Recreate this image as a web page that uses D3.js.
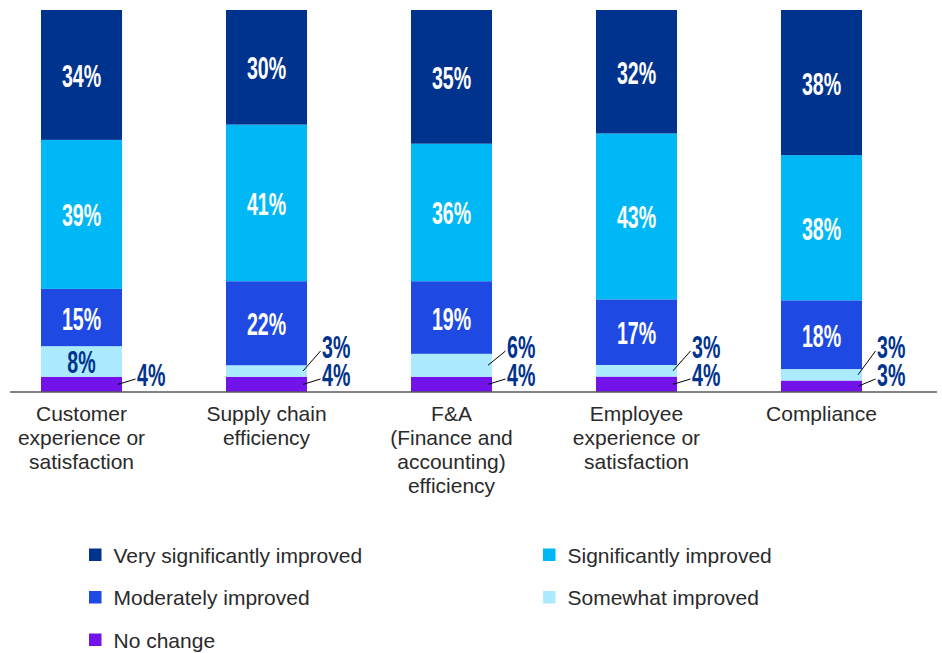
<!DOCTYPE html>
<html>
<head>
<meta charset="utf-8">
<script src="https://cdn.jsdelivr.net/npm/d3@7"></script>
<style>
  html, body { margin: 0; padding: 0; background: #fff; }
  svg { display: block; }
</style>
</head>
<body>
<svg id="chart" width="942" height="653"></svg>
<script>
// Survey results: share of respondents per improvement level, by business area
const categories = [
  "Customer experience or satisfaction",
  "Supply chain efficiency",
  "F&A (Finance and accounting) efficiency",
  "Employee experience or satisfaction",
  "Compliance"
];
const categoryLines = [
  ["Customer", "experience or", "satisfaction"],
  ["Supply chain", "efficiency"],
  ["F&A", "(Finance and", "accounting)", "efficiency"],
  ["Employee", "experience or", "satisfaction"],
  ["Compliance"]
];

// Stack order, bottom to top
const seriesNames = [
  "No change",
  "Somewhat improved",
  "Moderately improved",
  "Significantly improved",
  "Very significantly improved"
];
const noChange                  = [4, 4, 4, 4, 3];
const somewhatImproved          = [8, 3, 6, 3, 3];
const moderatelyImproved        = [15, 22, 19, 17, 18];
const significantlyImproved     = [39, 41, 36, 43, 38];
const verySignificantlyImproved = [34, 30, 35, 32, 38];

// Legend layout order (two columns, row by row)
const legendOrder = [
  "Very significantly improved", "Significantly improved",
  "Moderately improved", "Somewhat improved",
  "No change"
];

const seriesValues = [noChange, somewhatImproved, moderatelyImproved, significantlyImproved, verySignificantlyImproved];
const colors = d3.scaleOrdinal()
  .domain(seriesNames)
  .range(["#7213EA", "#ACEAFF", "#1E49E2", "#00B8F5", "#00338D"]);
const labelColors = d3.scaleOrdinal()
  .domain(seriesNames)
  .range(["#00338D", "#00338D", "#ffffff", "#ffffff", "#ffffff"]);

const rows = categories.map((c, i) => {
  const r = { category: c };
  seriesNames.forEach((s, k) => { r[s] = seriesValues[k][i]; });
  return r;
});

const stacked = d3.stack()
  .keys(seriesNames)
  .offset(d3.stackOffsetExpand)(rows);

const svg = d3.select("#chart");

const x = d3.scaleBand()
  .domain(categories)
  .range([22.5, 880.5])
  .paddingInner(0.562)
  .paddingOuter(0.1);

const y = d3.scaleLinear().domain([0, 1]).range([392, 10]);

// Condensed bold look for the percentages: a regular bold face squeezed horizontally
const valueFont = "'Liberation Sans', Arial, sans-serif";
const valueScale = "scale(0.7,1.1)";
const valueSize = 28;
const textFont = "'Liberation Sans', Arial, sans-serif";
const textSize = 21;

// Bars
const layers = svg.append("g").selectAll("g")
  .data(stacked)
  .join("g")
  .attr("fill", d => colors(d.key));

layers.selectAll("rect")
  .data(d => d.map(p => ({ p, key: d.key })))
  .join("rect")
  .attr("x", d => x(d.p.data.category))
  .attr("width", x.bandwidth())
  .attr("y", d => y(d.p[1]))
  .attr("height", d => y(d.p[0]) - y(d.p[1]));

// Baseline
svg.append("line")
  .attr("x1", 10).attr("x2", 937)
  .attr("y1", y(0)).attr("y2", y(0))
  .attr("stroke", "#5a5a5a")
  .attr("stroke-width", 1.5);

// Value labels: inside the segment when there is room, otherwise to the right with a leader
const threshold = 7;
const labelG = svg.append("g");
const outsideBaselines = [386, 358];

categories.forEach((cat, i) => {
  const bx = x(cat);
  const right = bx + x.bandwidth();
  let outsideCount = 0;
  stacked.forEach(layer => {
    const p = layer[i];
    const v = p.data[layer.key];
    const mid = (y(p[0]) + y(p[1])) / 2;
    if (v >= threshold) {
      labelG.append("text")
        .attr("transform", `translate(${bx + x.bandwidth() / 2},${mid + 12}) ${valueScale}`)
        .attr("text-anchor", "middle")
        .attr("font-family", valueFont)
        .attr("font-weight", "bold")
        .attr("font-size", valueSize)
        .attr("fill", labelColors(layer.key))
        .text(v + "%");
    } else {
      const base = outsideBaselines[outsideCount++];
      const lx = right + 15;
      labelG.append("line")
        .attr("x1", right - 4).attr("y1", mid)
        .attr("x2", lx - 1.5).attr("y2", base - 7)
        .attr("stroke", "#000")
        .attr("stroke-width", 1);
      labelG.append("text")
        .attr("transform", `translate(${lx},${base}) ${valueScale}`)
        .attr("text-anchor", "start")
        .attr("font-family", valueFont)
        .attr("font-weight", "bold")
        .attr("font-size", valueSize)
        .attr("fill", "#00338D")
        .text(v + "%");
    }
  });
});

// Category labels
const catG = svg.append("g");
categories.forEach((cat, i) => {
  const t = catG.append("text")
    .attr("x", x(cat) + x.bandwidth() / 2)
    .attr("y", 420.5)
    .attr("text-anchor", "middle")
    .attr("font-family", textFont)
    .attr("font-size", textSize)
    .attr("fill", "#2a2a2a");
  categoryLines[i].forEach((line, j) => {
    t.append("tspan")
      .attr("x", x(cat) + x.bandwidth() / 2)
      .attr("dy", j === 0 ? 0 : 24)
      .text(line);
  });
});

// Legend
const legend = svg.append("g");
const colX = [89, 543];
legendOrder.forEach((name, i) => {
  const cx = colX[i % 2];
  const cy = 555 + Math.floor(i / 2) * 42.5;
  legend.append("rect")
    .attr("x", cx).attr("y", cy - 6.5)
    .attr("width", 12.5).attr("height", 12.5)
    .attr("fill", colors(name));
  legend.append("text")
    .attr("x", cx + 24.5).attr("y", cy + 7.5)
    .attr("font-family", textFont)
    .attr("font-size", textSize)
    .attr("fill", "#2a2a2a")
    .text(name);
});
</script>
</body>
</html>
